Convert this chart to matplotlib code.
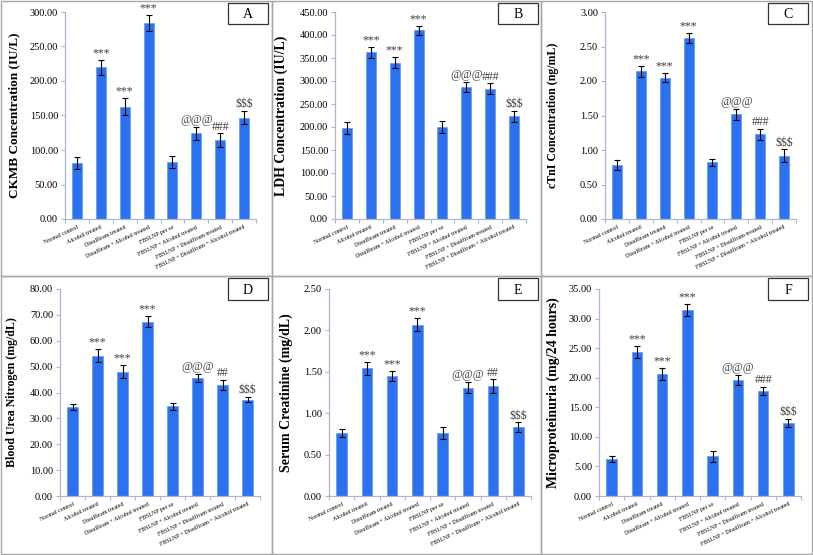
import numpy as np
import matplotlib.pyplot as plt
from matplotlib.patches import Rectangle

plt.rcParams['font.family'] = ['Liberation Serif', 'DejaVu Serif']

# Data
groups = ['Normal control', 'Alcohol treated', 'Disulfiram treated',
          'Disulfiram + Alcohol treated', 'FBSLNP per se',
          'FBSLNP + Alcohol treated', 'FBSLNP + Disulfiram treated',
          'FBSLNP + Disulfiram + Alcohol treated']

ckmb = [81, 220, 163, 284, 83, 124, 114, 147]
ckmb_err = [9, 11, 12, 11, 9, 10, 10, 10]
ldh = [198, 362, 340, 410, 200, 287, 283, 223]
ldh_err = [13, 12, 12, 10, 14, 11, 12, 12]
ctni = [0.78, 2.14, 2.05, 2.62, 0.82, 1.52, 1.23, 0.92]
ctni_err = [0.07, 0.08, 0.07, 0.07, 0.05, 0.08, 0.08, 0.09]
bun = [34.3, 54.2, 48.1, 67.4, 34.6, 45.7, 42.9, 37.2]
bun_err = [1.2, 2.5, 2.4, 2.1, 1.2, 1.5, 2.0, 1.0]
creat = [0.76, 1.54, 1.45, 2.07, 0.76, 1.31, 1.33, 0.83]
creat_err = [0.05, 0.08, 0.06, 0.08, 0.07, 0.07, 0.08, 0.06]
micro = [6.3, 24.3, 20.6, 31.5, 6.7, 19.6, 17.7, 12.3]
micro_err = [0.5, 1.0, 1.0, 1.0, 0.9, 0.9, 0.7, 0.7]

marks_3 = ['', '***', '***', '***', '', '@@@', '###', '$$$']
marks_2 = ['', '***', '***', '***', '', '@@@', '##', '$$$']

panels = [
    ('A', 'CKMB Concentration (IU/L)', ckmb, ckmb_err, 300, 50, marks_3),
    ('B', 'LDH Concentration (IU/L)', ldh, ldh_err, 450, 50, marks_3),
    ('C', 'cTnI Concentration (ng/mL)', ctni, ctni_err, 3.0, 0.5, marks_3),
    ('D', 'Blood Urea Nitrogen (mg/dL)', bun, bun_err, 80, 10, marks_2),
    ('E', 'Serum Creatinine (mg/dL)', creat, creat_err, 2.5, 0.5, marks_2),
    ('F', 'Microproteinuria (mg/24 hours)', micro, micro_err, 35, 5, marks_3),
]

W, H = 813, 555
fig = plt.figure(figsize=(W / 100, H / 100), dpi=100)

# axes rectangles in pixels: left, top, width, height
ax_px = [(65, 12, 191, 207), (335, 12, 191, 207), (605, 12, 191, 207),
         (60, 289, 200, 207), (329, 289, 202, 207), (599, 289, 202, 207)]
box_px = [(228, 3, 40, 21), (498, 3, 40, 21), (768, 3, 40, 21),
          (228, 278, 40, 22), (498, 278, 40, 22), (768, 278, 40, 22)]
label_size = [9.5, 10.0, 8.6, 8.6, 10.0, 10.0]
label_x = [-45, -47, -46, -42, -36, -39]

x = np.arange(len(groups))
for (l, t, w, h), (letter, ylabel, vals, errs, ymax, step, marks), ls, lx in zip(
        ax_px, panels, label_size, label_x):
    ax = fig.add_axes([l / W, 1 - (t + h) / H, w / W, h / H])
    ax.bar(x, vals, width=0.42, color='#2c72f0', edgecolor='#6aa0f5', linewidth=0.6,
           zorder=2)
    ax.errorbar(x, vals, yerr=errs, fmt='none', ecolor='black', elinewidth=0.8,
                capsize=2.2, capthick=0.8, zorder=3)
    for xi, v, e, m in zip(x, vals, errs, marks):
        if m:
            ax.annotate(m, (xi, v + e), xytext=(0, 0.5), textcoords='offset points',
                        ha='center', va='bottom', fontsize=8.5, color='#404040')
    ax.set_xlim(-0.5, len(groups) - 0.5)
    ax.set_ylim(0, ymax)
    ticks = np.arange(0, ymax + step / 2, step)
    ax.set_yticks(ticks)
    ax.set_yticklabels([f'{tk:.2f}' for tk in ticks], fontsize=7.5)
    ax.set_xticks(x)
    ax.set_xticklabels(groups, rotation=25, ha='right', rotation_mode='anchor',
                       fontsize=4.3)
    ax.set_xticks(np.arange(-0.5, len(groups)), minor=True)
    ax.tick_params(axis='x', which='major', length=0, pad=4)
    ax.tick_params(axis='x', which='minor', length=3, color='#a8b8d0', width=0.8)
    ax.tick_params(axis='y', length=3, color='#a8b8d0', width=0.8, pad=2)
    for s in ['top', 'right']:
        ax.spines[s].set_visible(False)
    for s in ['left', 'bottom']:
        ax.spines[s].set_color('#a8b8d0')
        ax.spines[s].set_linewidth(0.9)
    ax.set_ylabel(ylabel, fontsize=ls, fontweight='bold')
    ax.yaxis.set_label_coords(lx / w, 0.5)

# panel frames and letter boxes, drawn on top
bg = fig.add_axes([0, 0, 1, 1])
bg.set_zorder(10)
bg.patch.set_alpha(0)
bg.set_xlim(0, W)
bg.set_ylim(H, 0)
bg.axis('off')
for x0, x1 in [(1, 272), (272, 541), (541, 812)]:
    for y0, y1 in [(1, 276), (276, 554)]:
        bg.add_patch(Rectangle((x0, y0), x1 - x0, y1 - y0, fill=False,
                               edgecolor='#a6a6a6', lw=1.0))
for (bx, by, bw, bh), p in zip(box_px, panels):
    bg.add_patch(Rectangle((bx, by), bw, bh, facecolor='white',
                           edgecolor='#333333', lw=0.9))
    bg.text(bx + bw / 2, by + bh / 2 + 1, p[0], ha='center', va='center', fontsize=10)

fig.savefig('out.png', dpi=100)
